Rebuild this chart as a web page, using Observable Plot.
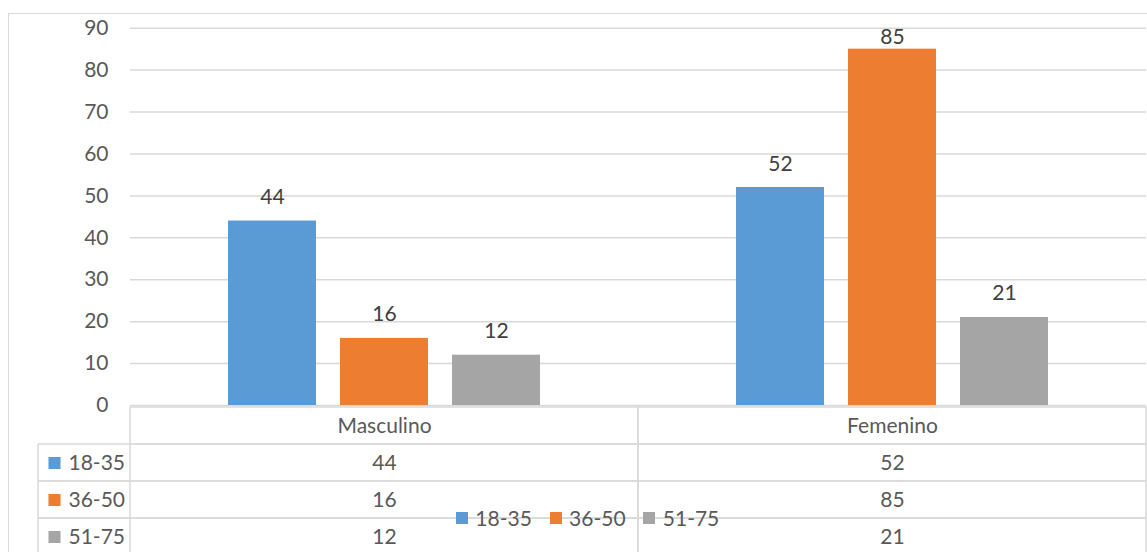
<!DOCTYPE html>
<html><head><meta charset="utf-8">
<script src="https://cdn.jsdelivr.net/npm/d3@7"></script>
<script src="https://cdn.jsdelivr.net/npm/@observablehq/plot@0.6"></script>
<style>
html,body{margin:0;padding:0;background:#fff;}
#wrap{position:relative;width:1147px;height:552px;overflow:hidden;font-family:Lato,sans-serif;}
#border{position:absolute;left:8px;top:13px;width:1300px;height:700px;border:1.5px solid #d9d9d9;box-sizing:border-box}
#chart,#table,#legend{position:absolute;left:0}
#chart{top:0}
#table{top:405px}
#legend{top:501px;left:456px}
#legend div,#legend span{font-family:Lato,sans-serif!important;font-size:21px!important;color:#595959!important}
#legend span{margin-right:0.85em!important}
#legend svg{margin-right:0.35em!important}
</style></head><body>
<div id="wrap"><div id="border"></div><div id="chart"></div><div id="table"></div><div id="legend"></div></div>
<script>
const genders = ["Masculino", "Femenino"];
const ages = ["18-35", "36-50", "51-75"];
const colors = ["#5B9BD5", "#ED7D31", "#A5A5A5"];
const masculino = [44, 16, 12];
const femenino = [52, 85, 21];
const yTicks = [0, 10, 20, 30, 40, 50, 60, 70, 80, 90];

const byGender = [masculino, femenino];
const data = genders.flatMap((g, i) => ages.map((a, j) => ({gender: g, age: a, value: byGender[i][j]})));
const rows = ["header", ...ages];
const cellsData = genders.flatMap(g => rows.map(r => ({gender: g, row: r})));

const FS = 21;
const baseStyle = {background: "none", fontFamily: "Lato, sans-serif", fontSize: FS + "px", color: "#595959", overflow: "visible"};

const chart = Plot.plot({
  width: 1147, height: 410,
  marginTop: 27.7, marginBottom: 5, marginLeft: 130, marginRight: 1,
  style: baseStyle,
  fx: {domain: genders, padding: 0, axis: null},
  x: {domain: ages, paddingInner: 0.213, paddingOuter: 0.86, axis: null},
  y: {domain: [0, 90], axis: null},
  color: {domain: ages, range: colors},
  marks: [
    Plot.ruleY(yTicks, {stroke: "#d9d9d9", strokeWidth: 1.5}),
    Plot.axisY({ticks: yTicks, tickSize: 0, tickPadding: 22, fontSize: FS, fill: "#595959", label: null}),
    Plot.barY(data, {fx: "gender", x: "age", y: "value", fill: "age"}),
    // labels inside the plot area: the tallest one is pushed down as in the original
    Plot.text(data.filter(d => d.value < 80), {fx: "gender", x: "age", y: "value", text: d => String(d.value), lineAnchor: "bottom", dy: -17, fill: "#404040", fontSize: FS}),
    Plot.text(data.filter(d => d.value >= 80), {fx: "gender", x: "age", y: "value", text: d => String(d.value), lineAnchor: "bottom", dy: -5, fill: "#404040", fontSize: FS})
  ]
});
document.getElementById("chart").appendChild(chart);

function leftLines(index, scales, values, dims) {
  const y = scales.y;
  const bw = y(ages[1]) - y(ages[0]);
  const g = d3.create("svg:g").attr("stroke", "#d9d9d9").attr("stroke-width", 1.5);
  const x0 = 38, x1 = dims.marginLeft;
  for (const a of ages) {
    const t = y(a);
    g.append("line").attr("x1", x0).attr("x2", x1).attr("y1", t).attr("y2", t);
    g.append("line").attr("x1", x0).attr("x2", x1).attr("y1", t + bw).attr("y2", t + bw);
  }
  g.append("line").attr("x1", x0).attr("x2", x0).attr("y1", y(ages[0])).attr("y2", dims.height + 10);
  return g.node();
}

const table = Plot.plot({
  width: 1147, height: 147,
  marginTop: 0, marginBottom: 0, marginLeft: 130, marginRight: 1,
  style: baseStyle,
  x: {domain: genders, range: [130, 1146], padding: 0, axis: null},
  y: {domain: rows, range: [0, 151.6], padding: 0, axis: null},
  color: {domain: ages, range: colors},
  marks: [
    Plot.cell(cellsData, {x: "gender", y: "row", fill: "none", stroke: "#d9d9d9", strokeWidth: 1.5, inset: 0}),
    leftLines,
    Plot.text(genders, {x: d => d, y: () => "header", text: d => d, fill: "#595959", fontSize: FS}),
    Plot.text(data, {x: "gender", y: "age", text: d => String(d.value), fill: "#595959", fontSize: FS}),
    Plot.dot(ages, {y: d => d, frameAnchor: "left", dx: -76, symbol: "square", r: 6.8, fill: d => d, stroke: "none"}),
    Plot.text(ages, {y: d => d, frameAnchor: "left", dx: -62, textAnchor: "start", text: d => d, fill: "#595959", fontSize: FS})
  ]
});
document.getElementById("table").appendChild(table);

const legend = Plot.legend({color: {domain: ages, range: colors}, legend: "swatches", swatchSize: 12});
document.getElementById("legend").appendChild(legend);
</script>
</body></html>
